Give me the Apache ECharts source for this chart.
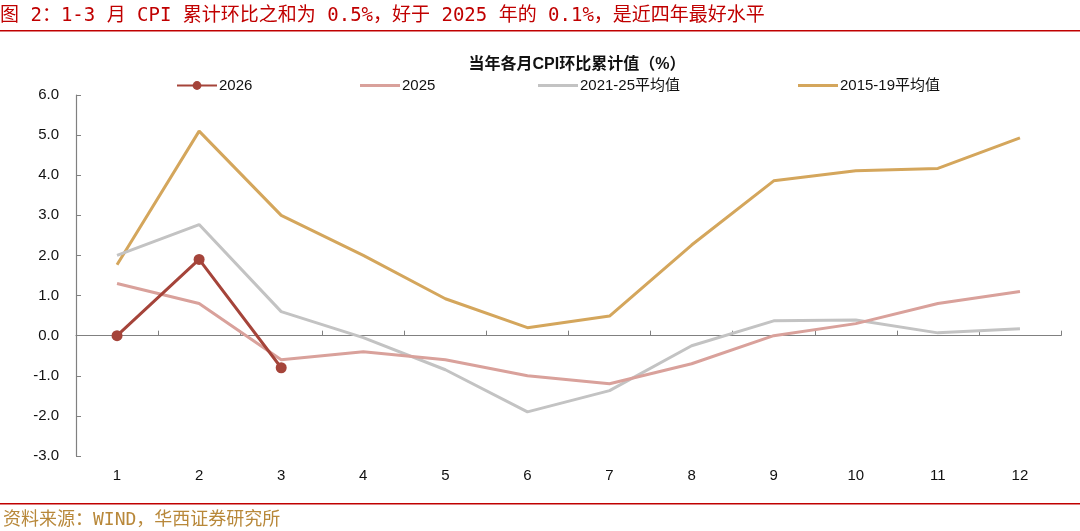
<!DOCTYPE html>
<html>
<head>
<meta charset="utf-8">
<script src="https://cdn.jsdelivr.net/npm/echarts@6/dist/echarts.min.js"></script>
<style>
html,body{margin:0;padding:0;background:#fff;}
#c{width:1080px;height:531px;}
</style>
</head>
<body>
<div id="c"></div>
<script>
const months = ['1','2','3','4','5','6','7','8','9','10','11','12'];
const s2026 = [0.0, 1.9, -0.8];
const s2025 = [1.3, 0.8, -0.6, -0.4, -0.6, -1.0, -1.2, -0.7, 0.0, 0.3, 0.8, 1.1];
const s2021_25 = [2.0, 2.77, 0.6, -0.05, -0.85, -1.9, -1.37, -0.25, 0.37, 0.39, 0.07, 0.17];
const s2015_19 = [1.77, 5.1, 3.0, 2.0, 0.92, 0.2, 0.49, 2.26, 3.86, 4.11, 4.17, 4.93];
const names = ['2026', '2025', '2021-25平均值', '2015-19平均值'];
const colors = ['#a5443a', '#d9a19b', '#c3c3c3', '#d4a65c'];

const chart = echarts.init(document.getElementById('c'));
const font = 'Arial, "Liberation Sans", "Noto Sans CJK SC", sans-serif';
const legendX = [171, 355, 533, 793];
chart.setOption({
  animation: false,
  backgroundColor: '#fff',
  textStyle: {fontFamily: font},
  title: {
    text: '当年各月CPI环比累计值（%）',
    left: 572, top: 52, textAlign: 'center',
    textStyle: {fontSize: 16, fontWeight: 'bold', color: '#111', fontFamily: font}
  },
  legend: names.map((n, i) => ({
    data: [n], left: legendX[i], top: 73,
    itemWidth: 40, itemHeight: i === 0 ? 11 : 3, itemGap: 0,
    textStyle: {fontSize: 15, color: '#111', padding: [0,0,0,-3]},
    icon: i === 0 ? undefined : 'rect'
  })),
  grid: {left: 76, right: 19, top: 95, bottom: 75},
  xAxis: [{
    type: 'category', data: months, position: 'bottom',
    axisLine: {show: false, onZero: false},
    axisTick: {show: false},
    axisLabel: {fontSize: 15, color: '#111', margin: 12}
  }, {
    type: 'category', data: months, position: 'bottom',
    axisLine: {show: true, onZero: true, lineStyle: {color: '#808080', width: 1.2}},
    axisTick: {show: true, inside: true, length: 5, lineStyle: {color: '#808080'}},
    axisLabel: {show: false}
  }],
  yAxis: {
    type: 'value', min: -3, max: 6, interval: 1,
    axisLine: {show: true, lineStyle: {color: '#808080', width: 1.2}},
    axisTick: {show: true, inside: true, length: 5, lineStyle: {color: '#808080'}},
    splitLine: {show: false},
    axisLabel: {fontSize: 15, color: '#111', margin: 17, formatter: v => v.toFixed(1)}
  },
  series: [
    {name: names[3], type: 'line', data: s2015_19, symbol: 'none', lineStyle: {color: colors[3], width: 3}, itemStyle: {color: colors[3]}, z: 2},
    {name: names[2], type: 'line', data: s2021_25, symbol: 'none', lineStyle: {color: colors[2], width: 3}, itemStyle: {color: colors[2]}, z: 2},
    {name: names[1], type: 'line', data: s2025, symbol: 'none', lineStyle: {color: colors[1], width: 3}, itemStyle: {color: colors[1]}, z: 3},
    {name: names[0], type: 'line', data: s2026, symbol: 'circle', symbolSize: 11, lineStyle: {color: colors[0], width: 3}, itemStyle: {color: colors[0]}, z: 4}
  ],
  graphic: [
    {type: 'text', left: 0, top: 7, style: {text: '图 2：1-3 月 CPI 累计环比之和为 0.5%，好于 2025 年的 0.1%，是近四年最好水平', fill: '#c00000', font: '19px "DejaVu Sans Mono", "Noto Sans CJK SC", monospace'}},
    {type: 'rect', left: 0, top: 30, shape: {width: 1080, height: 1.5}, style: {fill: '#c00000'}},
    {type: 'rect', left: 0, top: 503, shape: {width: 1080, height: 1.5}, style: {fill: '#c00000'}},
    {type: 'text', left: 3, top: 511, style: {text: '资料来源：WIND，华西证券研究所', fill: '#b8883a', font: '18px "DejaVu Sans Mono", "Noto Sans CJK SC", monospace'}}
  ]
});
</script>
</body>
</html>
